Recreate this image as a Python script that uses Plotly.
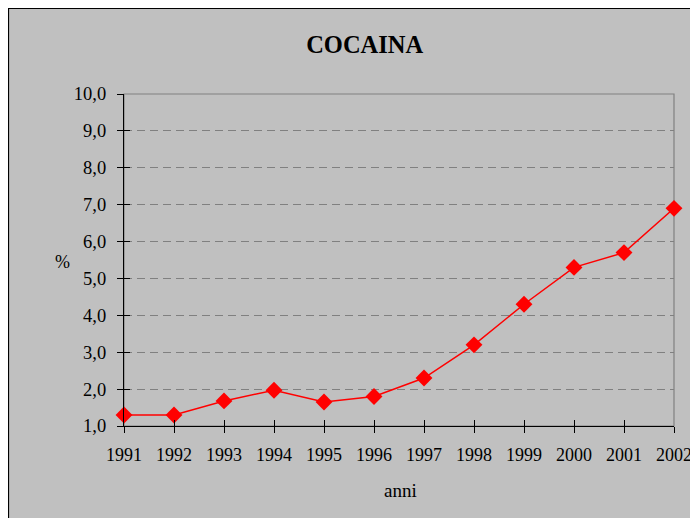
import plotly.graph_objects as go

anni = [1991, 1992, 1993, 1994, 1995, 1996, 1997, 1998, 1999, 2000, 2001, 2002]
percentuale = [1.3, 1.3, 1.68, 1.97, 1.65, 1.8, 2.3, 3.2, 4.3, 5.3, 5.7, 6.9]
y_ticks = [1, 2, 3, 4, 5, 6, 7, 8, 9, 10]

SERIF = "Liberation Serif, Times New Roman, serif"

fig = go.Figure()

# invisible copy on the overlay axes so their inner tick marks are drawn
fig.add_trace(go.Scatter(x=anni, y=percentuale, xaxis="x2", yaxis="y2",
                         mode="lines", opacity=0, hoverinfo="skip",
                         showlegend=False))

fig.add_trace(
    go.Scatter(
        x=anni,
        y=percentuale,
        mode="lines+markers",
        line=dict(color="#FF0000", width=1.5),
        marker=dict(symbol="diamond", size=13, color="#FF0000"),
        cliponaxis=False,
        showlegend=False,
    )
)

# page body has an 8px margin, so the margins are reduced by 8
fig.update_layout(
    width=698,
    height=518,
    margin=dict(l=116, r=32, t=86, b=100),
    paper_bgcolor="#C0C0C0",
    plot_bgcolor="rgba(0,0,0,0)",
    separators=",.",
    font=dict(family=SERIF, size=18, color="black"),
    title=dict(
        text="<b>COCAINA</b>",
        x=0.511, xanchor="center",
        y=0.93, yanchor="middle",
        font=dict(family=SERIF, size=24.5, color="black"),
    ),
    shapes=[
        # outer chart frame
        dict(type="rect", xref="paper", yref="paper",
             x0=-0.2100, x1=1.2, y0=-0.5, y1=1.2575,
             line=dict(color="black", width=1.2), layer="below"),
        # plot area frame (grey top/right)
        dict(type="rect", xref="paper", yref="paper",
             x0=0, x1=1, y0=0, y1=1,
             line=dict(color="#808080", width=1.2), layer="below"),
    ],
    annotations=[
        dict(text="%", xref="paper", yref="paper", x=-0.112, y=0.494,
             xanchor="center", yanchor="middle",
             showarrow=False, font=dict(family=SERIF, size=18)),
        dict(text="anni", xref="paper", yref="paper", x=0.502, y=-0.193,
             xanchor="center", yanchor="middle",
             showarrow=False, font=dict(family=SERIF, size=19)),
    ],
)

fig.update_layout(
    xaxis=dict(
        range=[anni[0], anni[-1]],
        tickvals=anni,
        ticktext=[str(a) for a in anni],
        showgrid=False,
        zeroline=False,
        showline=True,
        linecolor="black",
        linewidth=1.2,
        ticks="outside",
        ticklen=6,
        tickcolor="black",
        ticklabelstandoff=6,
        ticklabeloverflow="allow",
        tickfont=dict(family=SERIF, size=18),
    ),
    yaxis=dict(
        range=[1, 10],
        tickvals=y_ticks,
        tickformat=".1f",
        showgrid=True,
        gridcolor="#808080",
        griddash="8px,5px",
        gridwidth=1,
        zeroline=False,
        showline=True,
        linecolor="black",
        linewidth=1.2,
        ticks="outside",
        ticklen=6,
        tickcolor="black",
        ticklabelstandoff=7,
        tickfont=dict(family=SERIF, size=18.5),
    ),
    # overlay axes giving the inner half of the crossing tick marks
    xaxis2=dict(overlaying="x", anchor="y", side="bottom",
                range=[anni[0], anni[-1]], tickvals=anni,
                ticks="inside", ticklen=6, tickcolor="black",
                showticklabels=False, showgrid=False, zeroline=False,
                showline=False),
    yaxis2=dict(overlaying="y", anchor="x", side="left",
                range=[1, 10], tickvals=y_ticks,
                ticks="inside", ticklen=6, tickcolor="black",
                showticklabels=False, showgrid=False, zeroline=False,
                showline=False),
)

fig.write_html("out.html")
